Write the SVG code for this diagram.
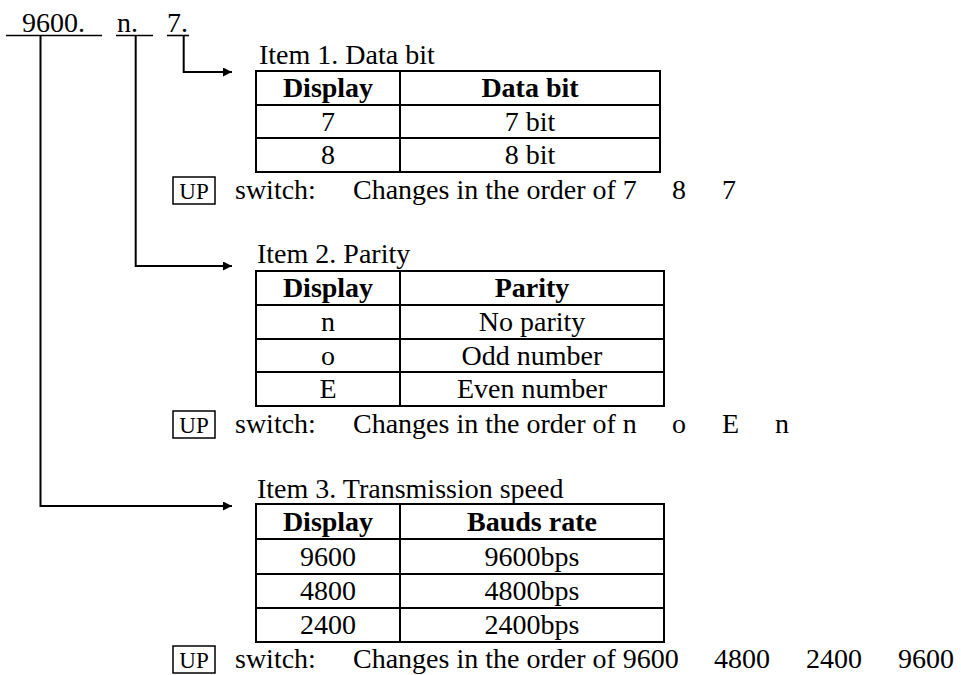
<svg xmlns="http://www.w3.org/2000/svg" width="961" height="675" viewBox="0 0 961 675">
<style>
text{font-family:"Liberation Serif","Times New Roman",serif;font-size:28px;fill:#000}
.b{font-weight:bold}
.c{text-anchor:middle}
.up{font-size:23px;text-anchor:middle}
.tb{fill:none;stroke:#000;stroke-width:2}
.ln{fill:none;stroke:#000;stroke-width:2}
.ul{stroke:#000;stroke-width:1.6}
.box{fill:none;stroke:#000;stroke-width:1.5}
</style>
<defs>
<marker id="ah" viewBox="0 0 10 10" refX="10" refY="5" markerWidth="10" markerHeight="9" markerUnits="userSpaceOnUse" orient="auto">
<path d="M0,0 L10,5 L0,10 Z" fill="#000"/>
</marker>
</defs>
<rect width="961" height="675" fill="#fff"/>

<g id="code">
<text x="22" y="32">9600.</text>
<text x="117" y="32">n.</text>
<text x="167" y="32">7.</text>
<line class="ul" x1="6" y1="35.5" x2="102" y2="35.5"/>
<line class="ul" x1="116" y1="35.5" x2="153" y2="35.5"/>
<line class="ul" x1="167" y1="35.5" x2="189" y2="35.5"/>
</g>

<g id="connectors">
<path class="ln" d="M183.7,35.5 V72 H232" marker-end="url(#ah)"/>
<path class="ln" d="M135.7,35.5 V266 H232" marker-end="url(#ah)"/>
<path class="ln" d="M40.5,35.5 V506 H232" marker-end="url(#ah)"/>
</g>

<g id="item1">
<text x="259" y="64">Item 1. Data bit</text>
<rect class="tb" x="256" y="71" width="404" height="101"/>
<line class="tb" x1="400" y1="71" x2="400" y2="172"/>
<line class="tb" x1="256" y1="105" x2="660" y2="105"/>
<line class="tb" x1="256" y1="138" x2="660" y2="138"/>
<text class="b c" x="328" y="97">Display</text>
<text class="b c" x="530" y="97">Data bit</text>
<text class="c" x="328" y="131">7</text>
<text class="c" x="530" y="131">7 bit</text>
<text class="c" x="328" y="164">8</text>
<text class="c" x="530" y="164">8 bit</text>
</g>

<g id="up1">
<rect class="box" x="173" y="177" width="42" height="27"/>
<text class="up" x="194" y="199">UP</text>
<text x="235" y="199">switch:</text>
<text y="199"><tspan x="353">Changes in the order of 7</tspan><tspan x="672">8</tspan><tspan x="722">7</tspan></text>
</g>

<g id="item2">
<text x="257" y="263">Item 2. Parity</text>
<rect class="tb" x="256" y="271" width="408" height="135"/>
<line class="tb" x1="400" y1="271" x2="400" y2="406"/>
<line class="tb" x1="256" y1="305" x2="664" y2="305"/>
<line class="tb" x1="256" y1="339" x2="664" y2="339"/>
<line class="tb" x1="256" y1="372" x2="664" y2="372"/>
<text class="b c" x="328" y="297">Display</text>
<text class="b c" x="532" y="297">Parity</text>
<text class="c" x="328" y="331">n</text>
<text class="c" x="532" y="331">No parity</text>
<text class="c" x="328" y="365">o</text>
<text class="c" x="532" y="365">Odd number</text>
<text class="c" x="328" y="398">E</text>
<text class="c" x="532" y="398">Even number</text>
</g>

<g id="up2">
<rect class="box" x="173" y="411" width="42" height="27"/>
<text class="up" x="194" y="433">UP</text>
<text x="235" y="433">switch:</text>
<text y="433"><tspan x="353">Changes in the order of n</tspan><tspan x="672">o</tspan><tspan x="722">E</tspan><tspan x="775">n</tspan></text>
</g>

<g id="item3">
<text x="257" y="498">Item 3. Transmission speed</text>
<rect class="tb" x="256" y="504" width="408" height="138"/>
<line class="tb" x1="400" y1="504" x2="400" y2="642"/>
<line class="tb" x1="256" y1="539" x2="664" y2="539"/>
<line class="tb" x1="256" y1="574" x2="664" y2="574"/>
<line class="tb" x1="256" y1="608" x2="664" y2="608"/>
<text class="b c" x="328" y="531">Display</text>
<text class="b c" x="532" y="531">Bauds rate</text>
<text class="c" x="328" y="566">9600</text>
<text class="c" x="532" y="566">9600bps</text>
<text class="c" x="328" y="600">4800</text>
<text class="c" x="532" y="600">4800bps</text>
<text class="c" x="328" y="634">2400</text>
<text class="c" x="532" y="634">2400bps</text>
</g>

<g id="up3">
<rect class="box" x="173" y="646" width="42" height="27"/>
<text class="up" x="194" y="668">UP</text>
<text x="235" y="668">switch:</text>
<text y="668"><tspan x="353">Changes in the order of 9600</tspan><tspan x="714">4800</tspan><tspan x="806">2400</tspan><tspan x="898">9600</tspan></text>
</g>
</svg>
